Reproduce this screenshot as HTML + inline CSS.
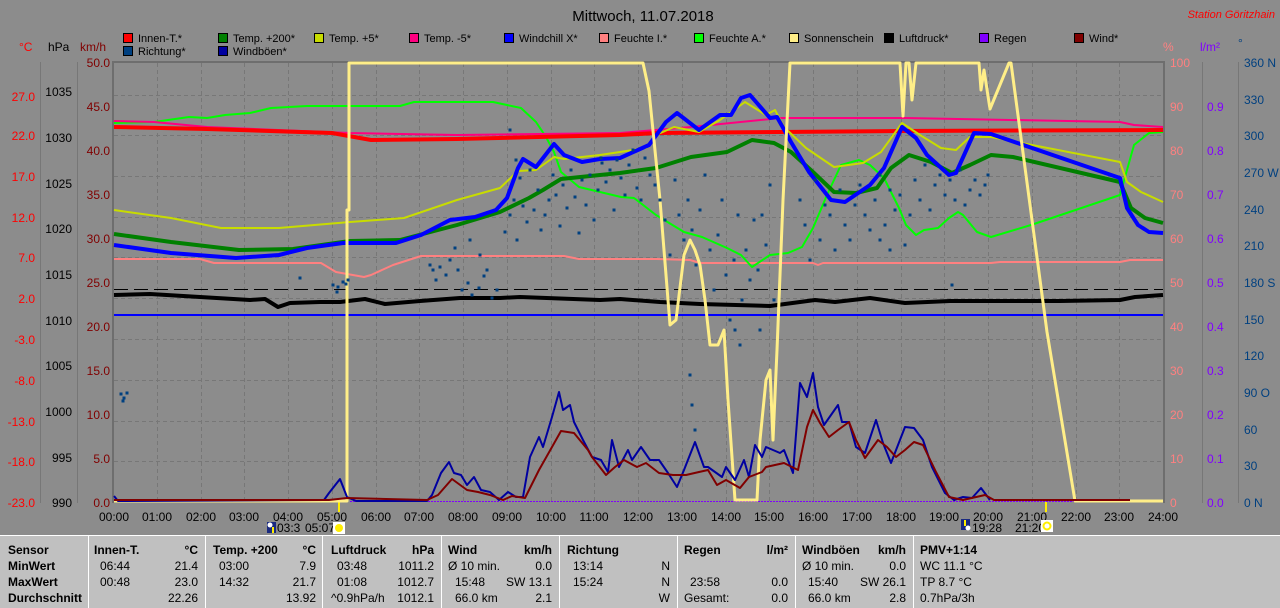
<!DOCTYPE html>
<html><head><meta charset="utf-8"><style>
html,body{margin:0;padding:0;background:#8c8c8c;}
svg{display:block;font-family:"Liberation Sans",sans-serif;}
</style></head><body>
<svg width="1280" height="608" viewBox="0 0 1280 608" xmlns="http://www.w3.org/2000/svg">
<rect x="0" y="0" width="1280" height="608" fill="#8c8c8c"/>
<text x="643" y="21" font-size="15" text-anchor="middle" fill="#000">Mittwoch, 11.07.2018</text>
<text x="1275" y="18" font-size="11" font-style="italic" text-anchor="end" fill="#ff0000">Station Göritzhain</text>

<!-- legend -->
<g font-size="11" fill="#000">
<rect x="123.5" y="33.5" width="9" height="9" fill="#ff0000" stroke="#000"/><text x="138" y="42">Innen-T.*</text>
<rect x="218.5" y="33.5" width="9" height="9" fill="#008000" stroke="#000"/><text x="233" y="42">Temp. +200*</text>
<rect x="314.5" y="33.5" width="9" height="9" fill="#c8dc00" stroke="#000"/><text x="329" y="42">Temp. +5*</text>
<rect x="409.5" y="33.5" width="9" height="9" fill="#ff0080" stroke="#000"/><text x="424" y="42">Temp. -5*</text>
<rect x="504.5" y="33.5" width="9" height="9" fill="#0000ff" stroke="#000"/><text x="519" y="42">Windchill X*</text>
<rect x="599.5" y="33.5" width="9" height="9" fill="#ff8080" stroke="#000"/><text x="614" y="42">Feuchte I.*</text>
<rect x="694.5" y="33.5" width="9" height="9" fill="#00ff00" stroke="#000"/><text x="709" y="42">Feuchte A.*</text>
<rect x="789.5" y="33.5" width="9" height="9" fill="#ffee88" stroke="#000"/><text x="804" y="42">Sonnenschein</text>
<rect x="884.5" y="33.5" width="9" height="9" fill="#000" stroke="#000"/><text x="899" y="42">Luftdruck*</text>
<rect x="979.5" y="33.5" width="9" height="9" fill="#8000ff" stroke="#000"/><text x="994" y="42">Regen</text>
<rect x="1074.5" y="33.5" width="9" height="9" fill="#800000" stroke="#000"/><text x="1089" y="42">Wind*</text>
<rect x="123.5" y="46.5" width="9" height="9" fill="#004080" stroke="#000"/><text x="138" y="55">Richtung*</text>
<rect x="218.5" y="46.5" width="9" height="9" fill="#0000a0" stroke="#000"/><text x="233" y="55">Windböen*</text>
</g>

<!-- axis headers -->
<g font-size="12">
<text x="19" y="51" fill="#ff0000">°C</text>
<text x="48" y="51" fill="#000">hPa</text>
<text x="80" y="51" fill="#800000">km/h</text>
<text x="1163" y="51" fill="#ff8080">%</text>
<text x="1200" y="51" fill="#8000ff">l/m²</text>
<text x="1238" y="47" fill="#004080">°</text>
</g>

<!-- axis lines -->
<g stroke="#777" stroke-width="1">
<line x1="40.5" y1="62" x2="40.5" y2="503"/>
<line x1="77.5" y1="62" x2="77.5" y2="503"/>
<line x1="1202.5" y1="62" x2="1202.5" y2="503"/>
<line x1="1238.5" y1="62" x2="1238.5" y2="503"/>
</g>
<g stroke="#6e6e6e" stroke-width="2">
<line x1="113" y1="61" x2="113" y2="503"/>
<line x1="1164" y1="61" x2="1164" y2="503"/>
<line x1="112" y1="62" x2="1165" y2="62"/>
</g>

<!-- grid -->
<g stroke="#777" stroke-width="1" stroke-dasharray="4,3">
<line x1="157.5" y1="63" x2="157.5" y2="502"/><line x1="201.5" y1="63" x2="201.5" y2="502"/>
<line x1="244.5" y1="63" x2="244.5" y2="502"/><line x1="288.5" y1="63" x2="288.5" y2="502"/>
<line x1="332.5" y1="63" x2="332.5" y2="502"/><line x1="376.5" y1="63" x2="376.5" y2="502"/>
<line x1="419.5" y1="63" x2="419.5" y2="502"/><line x1="463.5" y1="63" x2="463.5" y2="502"/>
<line x1="507.5" y1="63" x2="507.5" y2="502"/><line x1="551.5" y1="63" x2="551.5" y2="502"/>
<line x1="594.5" y1="63" x2="594.5" y2="502"/><line x1="638.5" y1="63" x2="638.5" y2="502"/>
<line x1="682.5" y1="63" x2="682.5" y2="502"/><line x1="726.5" y1="63" x2="726.5" y2="502"/>
<line x1="769.5" y1="63" x2="769.5" y2="502"/><line x1="813.5" y1="63" x2="813.5" y2="502"/>
<line x1="857.5" y1="63" x2="857.5" y2="502"/><line x1="901.5" y1="63" x2="901.5" y2="502"/>
<line x1="944.5" y1="63" x2="944.5" y2="502"/><line x1="988.5" y1="63" x2="988.5" y2="502"/>
<line x1="1032.5" y1="63" x2="1032.5" y2="502"/><line x1="1076.5" y1="63" x2="1076.5" y2="502"/>
<line x1="1119.5" y1="63" x2="1119.5" y2="502"/>
<line x1="114" y1="95.5" x2="1163" y2="95.5"/><line x1="114" y1="135.5" x2="1163" y2="135.5"/>
<line x1="114" y1="176.5" x2="1163" y2="176.5"/><line x1="114" y1="217.5" x2="1163" y2="217.5"/>
<line x1="114" y1="257.5" x2="1163" y2="257.5"/><line x1="114" y1="298.5" x2="1163" y2="298.5"/>
<line x1="114" y1="339.5" x2="1163" y2="339.5"/><line x1="114" y1="380.5" x2="1163" y2="380.5"/>
<line x1="114" y1="421.5" x2="1163" y2="421.5"/><line x1="114" y1="461.5" x2="1163" y2="461.5"/>
</g>

<!-- left labels -->
<g font-size="12" fill="#ff0000" text-anchor="end">
<text x="35" y="101">27.0</text><text x="35" y="140">22.0</text><text x="35" y="181">17.0</text>
<text x="35" y="222">12.0</text><text x="35" y="262">7.0</text><text x="35" y="303">2.0</text>
<text x="35" y="344">-3.0</text><text x="35" y="385">-8.0</text><text x="35" y="426">-13.0</text>
<text x="35" y="466">-18.0</text><text x="35" y="507">-23.0</text>
</g>
<g font-size="12" fill="#000" text-anchor="end">
<text x="72" y="96">1035</text><text x="72" y="142">1030</text><text x="72" y="188">1025</text>
<text x="72" y="233">1020</text><text x="72" y="279">1015</text><text x="72" y="325">1010</text>
<text x="72" y="370">1005</text><text x="72" y="416">1000</text><text x="72" y="462">995</text>
<text x="72" y="507">990</text>
</g>
<g font-size="12" fill="#800000" text-anchor="end">
<text x="110" y="67">50.0</text><text x="110" y="111">45.0</text><text x="110" y="155">40.0</text>
<text x="110" y="199">35.0</text><text x="110" y="243">30.0</text><text x="110" y="287">25.0</text>
<text x="110" y="331">20.0</text><text x="110" y="375">15.0</text><text x="110" y="419">10.0</text>
<text x="110" y="463">5.0</text><text x="110" y="507">0.0</text>
</g>
<!-- right labels -->
<g font-size="12" fill="#ff8080">
<text x="1170" y="67">100</text><text x="1170" y="111">90</text><text x="1170" y="155">80</text>
<text x="1170" y="199">70</text><text x="1170" y="243">60</text><text x="1170" y="287">50</text>
<text x="1170" y="331">40</text><text x="1170" y="375">30</text><text x="1170" y="419">20</text>
<text x="1170" y="463">10</text><text x="1170" y="507">0</text>
</g>
<g font-size="12" fill="#8000ff">
<text x="1207" y="111">0.9</text><text x="1207" y="155">0.8</text><text x="1207" y="199">0.7</text>
<text x="1207" y="243">0.6</text><text x="1207" y="287">0.5</text><text x="1207" y="331">0.4</text>
<text x="1207" y="375">0.3</text><text x="1207" y="419">0.2</text><text x="1207" y="463">0.1</text>
<text x="1207" y="507">0.0</text>
</g>
<g font-size="12" fill="#004080">
<text x="1244" y="67">360 N</text><text x="1244" y="104">330</text><text x="1244" y="140">300</text>
<text x="1244" y="177">270 W</text><text x="1244" y="214">240</text><text x="1244" y="250">210</text>
<text x="1244" y="287">180 S</text><text x="1244" y="324">150</text><text x="1244" y="360">120</text>
<text x="1244" y="397">90  O</text><text x="1244" y="434">60</text><text x="1244" y="470">30</text>
<text x="1244" y="507">0   N</text>
</g>

<!-- time labels -->
<g font-size="12" fill="#000" text-anchor="middle">
<text x="114" y="521">00:00</text><text x="157" y="521">01:00</text><text x="201" y="521">02:00</text>
<text x="244" y="521">03:00</text><text x="288" y="521">04:00</text><text x="332" y="521">05:00</text>
<text x="376" y="521">06:00</text><text x="419" y="521">07:00</text><text x="463" y="521">08:00</text>
<text x="507" y="521">09:00</text><text x="551" y="521">10:00</text><text x="594" y="521">11:00</text>
<text x="638" y="521">12:00</text><text x="682" y="521">13:00</text><text x="726" y="521">14:00</text>
<text x="769" y="521">15:00</text><text x="813" y="521">16:00</text><text x="857" y="521">17:00</text>
<text x="901" y="521">18:00</text><text x="944" y="521">19:00</text><text x="988" y="521">20:00</text>
<text x="1032" y="521">21:00</text><text x="1076" y="521">22:00</text><text x="1119" y="521">23:00</text>
<text x="1163" y="521">24:00</text>
</g>
<!-- sun icons -->
<rect x="267" y="522" width="9" height="11" fill="#1a2a80"/><circle cx="270" cy="525" r="2.5" fill="#fff"/><rect x="272" y="527" width="2" height="6" fill="#ffee00"/>
<text x="277" y="532" font-size="12">03:3</text><text x="305" y="532" font-size="12">05:07</text>
<rect x="333" y="522" width="12" height="12" fill="#fff"/><circle cx="339" cy="528" r="4" fill="#ffee00"/>
<rect x="961" y="519" width="9" height="11" fill="#1a2a80"/><rect x="964" y="520" width="2" height="6" fill="#ffee00"/><circle cx="968" cy="528" r="2.5" fill="#fff"/>
<text x="972" y="532" font-size="12">19:28</text><text x="1015" y="532" font-size="12">21:20</text>
<rect x="1041" y="520" width="12" height="12" fill="#fff"/><circle cx="1047" cy="526" r="3.5" fill="none" stroke="#ffee00" stroke-width="2"/>
<line x1="339" y1="502" x2="339" y2="512" stroke="#ffee00" stroke-width="2"/>
<line x1="1046" y1="502" x2="1046" y2="512" stroke="#ffee00" stroke-width="2"/>

<!-- data -->
<g fill="none" stroke-linejoin="round">
<!-- regen zero -->
<line x1="350" y1="501.5" x2="1163" y2="501.5" stroke="#8000ff" stroke-width="1" stroke-dasharray="2,1"/>
<!-- luftdruck dashed -->
<line x1="114" y1="289.5" x2="1163" y2="289.5" stroke="#000" stroke-width="1" stroke-dasharray="14,6"/>
<!-- blue horizontal -->
<line x1="114" y1="315" x2="1163" y2="315" stroke="#0000ff" stroke-width="2"/>
<!-- feuchte I -->
<polyline stroke="#ff8080" stroke-width="2" points="114,259 200,259 214,263 321,263 336,272 364,277 371,275 393,265 421,256 564,256 579,259 657,259 690,260 700,263 813,263 818,265 823,263 991,263 1000,262 1120,262 1130,260 1163,260"/>
<!-- luftdruck -->
<polyline stroke="#000" stroke-width="4" points="114,295 150,294 200,297 250,300 265,299 278,307 290,303 320,302 340,302 365,299 385,304 420,301 460,298 500,298 520,297 600,300 620,299 660,302 700,304 770,306 815,300 835,302 870,298 905,303 950,301 1060,301 1120,300 1135,297 1163,295"/>
<!-- feuchte A -->
<polyline stroke="#00ff00" stroke-width="2" points="114,123 154,122 189,117 207,118 225,115 250,113 271,108 307,106 400,106 414,102 493,102 521,108 536,122 546,137 554,152 561,172 579,187 600,192 621,197 634,198 656,215 684,232 702,237 727,248 741,255 752,267 770,255 788,253 802,247 813,228 827,195 841,165 859,160 870,165 884,178 899,208 906,225 916,235 924,230 938,228 949,218 958,212 963,215 977,232 991,237 1031,225 1120,195 1134,145 1149,133 1163,132"/>
<!-- pink -5 -->
<polyline stroke="#ff0080" stroke-width="2" points="114,121 154,122 207,127 350,133 457,135 620,133 691,127 781,118 906,118 1120,122 1134,125 1163,127"/>
<!-- red innen -->
<polyline stroke="#ff0000" stroke-width="4" points="114,127 207,129 332,133 371,140 457,139 620,135 657,133 900,131 1163,130"/>
<!-- temp +5 -->
<polyline stroke="#c8dc00" stroke-width="2" points="114,210 171,218 221,228 279,228 350,222 404,218 457,200 500,188 518,171 536,170 554,157 564,159 600,155 620,152 646,148 656,135 674,127 699,132 720,120 745,102 766,115 775,110 784,127 806,148 834,167 863,163 881,152 902,123 920,135 941,148 956,150 970,137 991,137 1120,162 1127,182 1141,192 1163,202"/>
<!-- temp +200 -->
<polyline stroke="#008000" stroke-width="4" points="114,234 171,242 239,250 293,249 350,241 400,240 457,225 500,212 529,198 543,190 561,179 600,175 620,173 656,168 691,157 727,152 752,140 774,143 791,152 813,172 834,192 856,193 877,188 891,168 909,155 931,162 952,173 970,165 991,155 1013,157 1120,182 1131,208 1145,218 1163,223"/>
<!-- windchill -->
<polyline stroke="#0000ff" stroke-width="4" points="114,245 171,253 236,258 279,255 307,248 343,243 396,243 421,235 450,220 475,217 496,210 507,198 518,168 523,159 536,167 554,144 564,155 582,162 600,159 620,158 649,145 666,122 677,113 699,130 720,115 731,115 741,98 750,95 770,118 777,117 791,142 809,172 831,200 845,202 870,185 884,168 902,127 916,138 927,155 949,175 956,173 974,133 991,134 1120,178 1127,208 1138,225 1149,232 1163,233"/>
<!-- sonnenschein -->
<polyline stroke="#ffee88" stroke-width="3" points="114,501 347,501 347,210 349,210 349,63 643,63 649,91 660,200 670,325 676,320 684,255 690,240 695,250 700,265 705,300 710,345 718,345 724,330 728,400 735,500 757,500 760,440 766,380 770,370 773,440 777,350 783,200 790,63 900,63 903,116 906,63 909,63 912,100 916,63 979,63 981,90 984,70 990,109 1009,63 1011,63 1047,332 1075,501 1163,501"/>
<!-- wind boeen -->
<polyline stroke="#0000a0" stroke-width="2" points="114,496 118,501 324,500 329,493 340,479 347,497 356,501 427,501 432,495 441,473 449,462 454,473 461,475 467,485 474,477 481,490 490,492 499,500 508,492 516,497 523,497 530,457 539,437 543,447 552,417 559,392 563,410 570,405 574,422 583,440 592,457 601,460 608,472 612,440 619,467 628,450 632,460 641,447 650,460 659,460 668,473 677,487 684,470 695,442 704,467 708,467 722,477 726,467 735,480 744,460 749,477 755,445 762,457 766,447 780,453 784,450 793,473 800,383 807,397 813,373 818,407 824,425 838,405 842,422 849,422 856,447 865,453 876,420 883,443 891,463 905,427 914,428 923,440 932,467 945,493 954,500 963,497 972,498 981,488 990,500"/>
<!-- wind -->
<polyline stroke="#800000" stroke-width="2" points="114,500 329,500 347,498 427,500 438,495 452,479 467,490 478,492 490,495 503,500 512,496 525,498 539,470 552,447 561,431 574,433 588,450 592,457 606,475 615,467 624,460 637,467 646,463 659,473 673,475 686,475 699,472 708,470 717,485 726,480 740,488 749,477 762,472 766,467 784,463 798,470 807,427 813,410 820,423 829,437 838,430 849,422 856,440 865,458 878,440 887,447 896,457 905,450 914,442 923,445 936,472 949,497 963,500 985,495 994,500 1130,500"/>
<!-- richtung dots -->
<path stroke="#004080" stroke-width="3" stroke-linecap="square" d="M121 394h0M124 398h0M127 393h0M123 401h0M300 278h0M333 285h0M338 287h0M343 282h0M346 284h0M348 280h0M337 292h0
M430 265h0M433 270h0M440 267h0M436 280h0M446 275h0M450 260h0M458 270h0M462 290h0M468 283h0M472 295h0M479 288h0M484 276h0M487 270h0M492 298h0M497 290h0M455 248h0M470 240h0M480 255h0
M505 232h0M510 215h0M514 200h0M517 240h0M520 178h0M523 206h0M527 222h0M530 170h0M534 210h0M538 190h0M541 230h0M545 215h0M549 200h0M553 175h0M556 195h0M560 226h0M563 185h0M567 208h0M571 170h0M575 197h0M579 233h0M582 180h0M586 205h0M590 175h0M594 220h0M598 190h0M602 163h0M606 182h0M610 170h0M614 210h0M617 160h0M621 178h0M625 195h0M629 165h0M633 150h0M637 188h0M641 200h0M645 158h0M510 130h0M516 160h0M601 158h0M650 175h0M655 185h0
M660 200h0M665 220h0M670 255h0M675 180h0M679 215h0M684 240h0M688 200h0M692 230h0M696 265h0M700 210h0M705 175h0M710 250h0M714 290h0M718 235h0M722 200h0M726 275h0M730 320h0M734 260h0M738 215h0M742 300h0M746 250h0M750 280h0M754 220h0M758 270h0M762 215h0M766 245h0M770 185h0M774 300h0M690 375h0M692 405h0M695 430h0M735 330h0M740 345h0M760 330h0
M800 200h0M805 225h0M810 260h0M815 180h0M820 240h0M825 205h0M830 215h0M835 250h0M840 190h0M845 225h0M850 240h0M855 205h0M860 185h0M865 215h0M870 230h0M875 200h0M880 175h0M885 225h0M890 190h0M895 210h0M900 195h0M905 245h0M910 215h0M915 180h0M920 200h0M925 165h0M930 210h0M935 185h0M940 175h0M945 195h0M950 180h0M955 200h0M960 170h0M965 205h0M970 190h0M975 180h0M980 195h0M985 185h0M988 175h0M952 285h0M890 250h0M880 240h0"/>
</g>

<!-- table -->
<rect x="0" y="536" width="1280" height="72" fill="#c0c0c0"/>
<line x1="0" y1="535.5" x2="1280" y2="535.5" stroke="#fff" stroke-width="1"/>
<g stroke="#fff" stroke-width="1">
<line x1="88.5" y1="536" x2="88.5" y2="608"/><line x1="205.5" y1="536" x2="205.5" y2="608"/>
<line x1="322.5" y1="536" x2="322.5" y2="608"/><line x1="441.5" y1="536" x2="441.5" y2="608"/>
<line x1="559.5" y1="536" x2="559.5" y2="608"/><line x1="677.5" y1="536" x2="677.5" y2="608"/>
<line x1="795.5" y1="536" x2="795.5" y2="608"/><line x1="913.5" y1="536" x2="913.5" y2="608"/>
</g>
<g font-size="12" fill="#000">
<g font-weight="bold">
<text x="8" y="554">Sensor</text><text x="8" y="570">MinWert</text><text x="8" y="586">MaxWert</text><text x="8" y="602">Durchschnitt</text>
<text x="94" y="554">Innen-T.</text><text x="198" y="554" text-anchor="end">°C</text>
<text x="213" y="554">Temp. +200</text><text x="316" y="554" text-anchor="end">°C</text>
<text x="331" y="554">Luftdruck</text><text x="434" y="554" text-anchor="end">hPa</text>
<text x="448" y="554">Wind</text><text x="552" y="554" text-anchor="end">km/h</text>
<text x="567" y="554">Richtung</text>
<text x="684" y="554">Regen</text><text x="788" y="554" text-anchor="end">l/m²</text>
<text x="802" y="554">Windböen</text><text x="906" y="554" text-anchor="end">km/h</text>
<text x="920" y="554">PMV+1:14</text>
</g>
<text x="100" y="570">06:44</text><text x="198" y="570" text-anchor="end">21.4</text>
<text x="100" y="586">00:48</text><text x="198" y="586" text-anchor="end">23.0</text>
<text x="198" y="602" text-anchor="end">22.26</text>
<text x="219" y="570">03:00</text><text x="316" y="570" text-anchor="end">7.9</text>
<text x="219" y="586">14:32</text><text x="316" y="586" text-anchor="end">21.7</text>
<text x="316" y="602" text-anchor="end">13.92</text>
<text x="337" y="570">03:48</text><text x="434" y="570" text-anchor="end">1011.2</text>
<text x="337" y="586">01:08</text><text x="434" y="586" text-anchor="end">1012.7</text>
<text x="331" y="602">^0.9hPa/h</text><text x="434" y="602" text-anchor="end">1012.1</text>
<text x="448" y="570">Ø 10 min.</text><text x="552" y="570" text-anchor="end">0.0</text>
<text x="455" y="586">15:48</text><text x="552" y="586" text-anchor="end">SW 13.1</text>
<text x="455" y="602">66.0 km</text><text x="552" y="602" text-anchor="end">2.1</text>
<text x="573" y="570">13:14</text><text x="670" y="570" text-anchor="end">N</text>
<text x="573" y="586">15:24</text><text x="670" y="586" text-anchor="end">N</text>
<text x="670" y="602" text-anchor="end">W</text>
<text x="690" y="586">23:58</text><text x="788" y="586" text-anchor="end">0.0</text>
<text x="684" y="602">Gesamt:</text><text x="788" y="602" text-anchor="end">0.0</text>
<text x="802" y="570">Ø 10 min.</text><text x="906" y="570" text-anchor="end">0.0</text>
<text x="808" y="586">15:40</text><text x="906" y="586" text-anchor="end">SW 26.1</text>
<text x="808" y="602">66.0 km</text><text x="906" y="602" text-anchor="end">2.8</text>
<text x="920" y="570">WC 11.1 °C</text><text x="920" y="586">TP 8.7 °C</text><text x="920" y="602">0.7hPa/3h</text>
</g>
</svg>
</body></html>
